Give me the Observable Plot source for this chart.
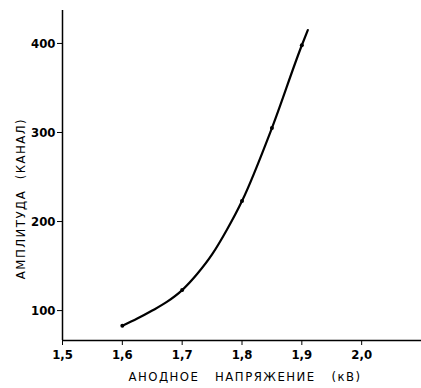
<!DOCTYPE html>
<html><head><meta charset="utf-8">
<script src="https://cdn.jsdelivr.net/npm/d3@7"></script>
<script src="https://cdn.jsdelivr.net/npm/@observablehq/plot@0.6"></script>
<style>
body{margin:0;background:#fff;}
svg{font-family:"Liberation Sans Narrow","DejaVu Sans Condensed",sans-serif;}
</style></head>
<body><div id="chart"></div>
<script>
const voltage = [1.6, 1.625, 1.65, 1.675, 1.7, 1.725, 1.75, 1.775, 1.8, 1.85, 1.9, 1.91];
const amplitude = [83, 91, 100, 110, 123, 141, 163, 191, 223, 305, 398, 415];
const markX = [1.6, 1.7, 1.8, 1.85, 1.9];
const markY = [83, 123, 223, 305, 398];
const xTicks = [1.5, 1.6, 1.7, 1.8, 1.9, 2.0];
const yTicks = [100, 200, 300, 400];
const xTitle = "АНОДНОЕ   НАПРЯЖЕНИЕ   (кВ)";
const yTitle = "АМПЛИТУДА  (КАНАЛ)";

const curve = voltage.map((v, i) => ({x: v, y: amplitude[i]}));
const marks = markX.map((v, i) => ({x: v, y: markY[i]}));

const fmt = d => d.toFixed(1).replace(".", ",");

const chart = Plot.plot({
  width: 421, height: 388,
  marginLeft: 62, marginRight: 0, marginTop: 10, marginBottom: 48,
  style: {fontSize: "13px", fontWeight: "bold", color: "#000", background: "#fff"},
  x: {domain: [1.5, 2.1]},
  y: {domain: [66.4, 437]},
  marks: [
    Plot.ruleY([66.4], {stroke: "#000", strokeWidth: 1.5}),
    Plot.ruleX([1.5], {stroke: "#000", strokeWidth: 1.5}),
    Plot.axisX({ticks: xTicks, tickFormat: fmt, tickSize: 5, tickPadding: 4, stroke: "#000", label: null}),
    Plot.axisY({ticks: yTicks, tickSize: 5, tickPadding: 2, stroke: "#000", label: null}),
    Plot.line(curve, {x: "x", y: "y", curve: "monotone-x", stroke: "#000", strokeWidth: 2.2}),
    Plot.dot(marks, {x: "x", y: "y", r: 2, fill: "#000"}),
    Plot.text([xTitle], {frameAnchor: "bottom", dy: 40, dx: 3, text: d => d, fontSize: 13, fontWeight: "normal", fill: "#000", fontFamily: "DejaVu Sans Condensed"}),
    Plot.text([yTitle], {frameAnchor: "left", textAnchor: "middle", dx: -42, dy: 23, rotate: -90, text: d => d, fontSize: 13, fontWeight: "normal", fill: "#000", fontFamily: "DejaVu Sans Condensed"})
  ]
});
chart.querySelectorAll("text").forEach(t => { if (t.textContent.includes("НАПРЯЖЕНИЕ") || t.textContent.includes("АМПЛИТУДА")) t.setAttribute("letter-spacing", "1.5"); });
document.getElementById("chart").append(chart);
</script></body></html>
